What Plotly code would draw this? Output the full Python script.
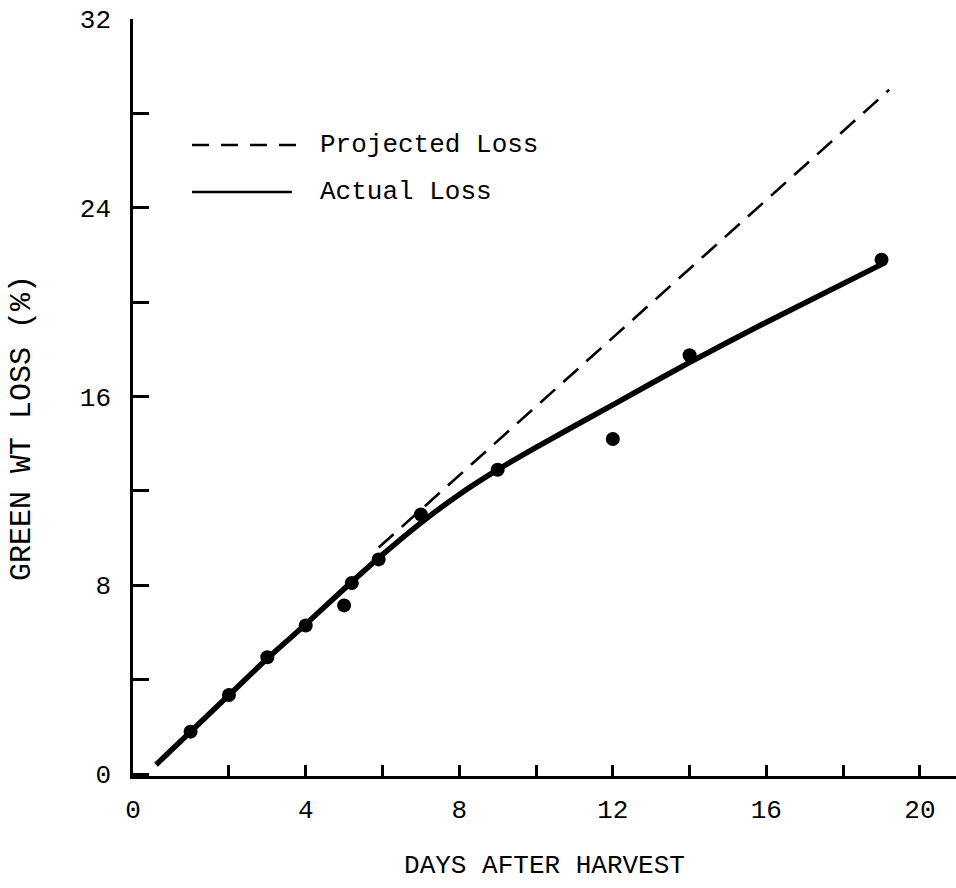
import plotly.graph_objects as go

# Measured weight loss (%) on each day after harvest
days = [1, 2, 3, 4, 5, 5.2, 5.9, 7, 9, 12, 14, 19]
loss = [1.8, 3.35, 4.95, 6.3, 7.15, 8.1, 9.1, 11.0, 12.9, 14.2, 17.75, 21.8]

# Smoothed curve of actual loss
fit_days = [0.1, 1, 2, 3, 4, 5, 6, 7, 8, 9, 10, 12, 14, 16, 19]
fit_loss = [0.4, 1.8, 3.35, 4.9, 6.35, 7.85, 9.3, 10.65, 11.85, 12.9, 13.85, 15.65, 17.45, 19.15, 21.6]

# Projected loss continuing the early rate
proj_days = [5.9, 19.2]
proj_loss = [9.6, 29.0]

x_label_vals = [-0.5, 4, 8, 12, 16, 20]
x_label_text = ["0", "4", "8", "12", "16", "20"]
x_tick_vals = [2, 4, 6, 8, 10, 12, 14, 16, 18, 20]
y_tick_vals = [0, 4, 8, 12, 16, 20, 24, 28, 32]
y_tick_text = ["0", "", "8", "", "16", "", "24", "", "32"]

FONT = "Liberation Mono"
INK = "#000000"

fig = go.Figure()

fig.add_trace(go.Scatter(
    x=proj_days, y=proj_loss, mode="lines",
    line=dict(color=INK, width=2.6, dash="20px,11px"),
    name="Projected Loss", hoverinfo="skip",
))
fig.add_trace(go.Scatter(
    x=fit_days, y=fit_loss, mode="lines",
    line=dict(color=INK, width=5.5, shape="spline", smoothing=0.7),
    name="Actual Loss", hoverinfo="skip",
))
fig.add_trace(go.Scatter(
    x=days, y=loss, mode="markers",
    marker=dict(color=INK, size=14),
    name="Observed",
))
# secondary x axis carrying the tick marks only
fig.add_trace(go.Scatter(x=[None], y=[None], xaxis="x2", showlegend=False))

# key drawn in the upper-left corner
fig.add_shape(type="line", xref="paper", yref="paper",
              x0=0.0717, x1=0.198, y0=0.8336, y1=0.8336,
              line=dict(color=INK, width=2.6, dash="17px,12px"))
fig.add_shape(type="line", xref="paper", yref="paper",
              x0=0.0717, x1=0.193, y0=0.7715, y1=0.7715,
              line=dict(color=INK, width=2.6))
fig.add_annotation(xref="paper", yref="paper", x=0.2248, y=0.8336,
                   text="Projected Loss", showarrow=False,
                   xanchor="left", yanchor="middle",
                   font=dict(family=FONT, size=26, color=INK))
fig.add_annotation(xref="paper", yref="paper", x=0.2248, y=0.7715,
                   text="Actual Loss", showarrow=False,
                   xanchor="left", yanchor="middle",
                   font=dict(family=FONT, size=26, color=INK))

# vertical axis title
fig.add_annotation(xref="paper", yref="paper", x=-0.1349, y=0.4597,
                   text="GREEN WT LOSS (%)", showarrow=False, textangle=-90,
                   xanchor="center", yanchor="middle",
                   font=dict(family=FONT, size=30, color=INK))

x_range = [-0.5, 20.94]
fig.update_layout(
    width=956, height=888,
    margin=dict(l=133, r=0, t=19, b=112),
    paper_bgcolor="white", plot_bgcolor="white",
    showlegend=False,
    font=dict(family=FONT, size=26, color=INK),
    xaxis=dict(
        range=x_range, tickmode="array", tickvals=x_label_vals, ticktext=x_label_text,
        ticks="", showgrid=False, zeroline=False,
        showline=True, linecolor=INK, linewidth=2.5,
        ticklabelstandoff=8, automargin=False,
        title=dict(text="DAYS AFTER HARVEST", standoff=30,
                   font=dict(family=FONT, size=26, color=INK)),
    ),
    xaxis2=dict(
        range=x_range, overlaying="x", anchor="y", side="bottom",
        tickmode="array", tickvals=x_tick_vals, showticklabels=False,
        ticks="inside", ticklen=11, tickwidth=2.5, tickcolor=INK,
        showgrid=False, zeroline=False, showline=False,
    ),
    yaxis=dict(
        range=[-0.08, 32], tickmode="array", tickvals=y_tick_vals, ticktext=y_tick_text,
        ticks="inside", ticklen=16, tickwidth=2.5, tickcolor=INK,
        showgrid=False, zeroline=False,
        showline=True, linecolor=INK, linewidth=2.5,
        ticklabelstandoff=14, automargin=False,
    ),
)

fig.write_html("out.html")
